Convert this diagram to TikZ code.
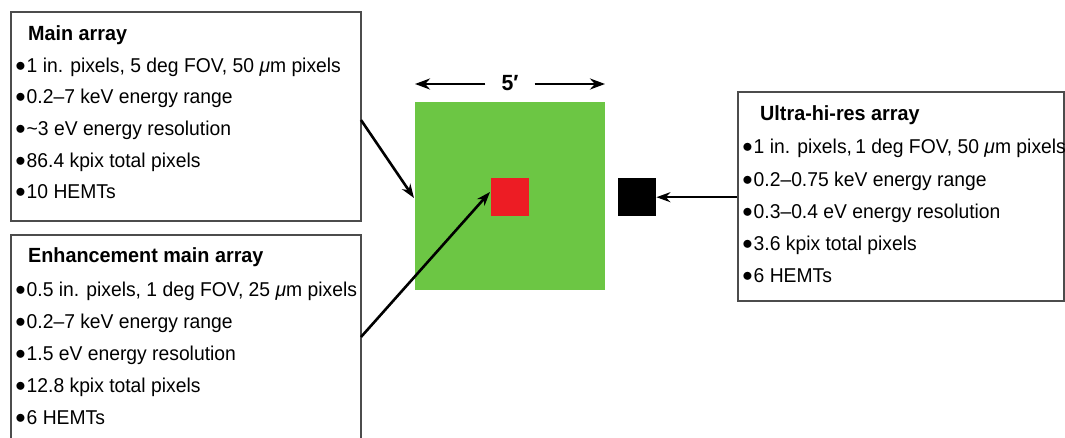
\documentclass[tikz,border=0pt]{standalone}
\usepackage{fontspec}
\setmainfont{Liberation Sans}[FakeStretch=0.965]
\usetikzlibrary{arrows.meta}
\definecolor{fieldgreen}{HTML}{6CC644}
\definecolor{chipred}{HTML}{ED1C24}
\newcommand\itemdot{\makebox[11pt][l]{\hspace{-0.4pt}\raisebox{1pt}{\fontsize{19.5}{19.5}\selectfont$\bullet$}}}
\begin{document}
\begin{tikzpicture}[x=1pt,y=-1pt,
  panel/.style={draw=black!70, line width=1.8pt, anchor=north west, inner sep=0pt, fill=white},
  headline/.style={anchor=base west, inner sep=0pt, font=\fontsize{20.5}{23}\selectfont\bfseries},
  entry/.style={anchor=base west, inner sep=0pt, font=\fontsize{20}{23}\selectfont},
  pointer/.style={line width=2.6pt, -{Stealth[length=14pt,width=10pt]}},
  span/.style={line width=2.8pt, -{Stealth[length=15pt,width=11pt]}},
]
\path[use as bounding box, fill=white] (0,0) rectangle (1065,438);
\clip (0,0) rectangle (1065,438);

% text panels
\node[panel, minimum width=350pt, minimum height=209pt] (mainbox) at (10,11) {};
\node[panel, minimum width=350pt, minimum height=230pt] (enhbox) at (10,234) {};
\node[panel, minimum width=326pt, minimum height=209pt] (ultrabox) at (737,91) {};

% main array
\node[headline] (m0) at (28,41) {Main array};
\node[entry] (m1) at (15.5,73) {\itemdot 1 in. pixels, 5 deg FOV, 50 \textit{μ}m pixels};
\node[entry] (m2) at (15.5,104) {\itemdot 0.2–7 keV energy range};
\node[entry] (m3) at (15.5,136) {\itemdot \textasciitilde3 eV energy resolution};
\node[entry] (m4) at (15.5,168) {\itemdot 86.4 kpix total pixels};
\node[entry] (m5) at (15.5,199) {\itemdot 10 HEMTs};

% enhancement main array
\node[headline] (e0) at (28,263) {Enhancement main array};
\node[entry] (e1) at (15.5,296) {\itemdot 0.5 in. pixels, 1 deg FOV, 25 \textit{μ}m pixels};
\node[entry] (e2) at (15.5,328) {\itemdot 0.2–7 keV energy range};
\node[entry] (e3) at (15.5,360) {\itemdot 1.5 eV energy resolution};
\node[entry] (e4) at (15.5,392) {\itemdot 12.8 kpix total pixels};
\node[entry] (e5) at (15.5,424) {\itemdot 6 HEMTs};

% ultra-hi-res array
\node[headline] (u0) at (760,121) {Ultra-hi-res array};
\node[entry] (u1) at (742.5,154) {\itemdot 1 in. pixels,\,1 deg FOV, 50 \textit{μ}m pixels};
\node[entry] (u2) at (742.5,187) {\itemdot 0.2–0.75 keV energy range};
\node[entry] (u3) at (742.5,219) {\itemdot 0.3–0.4 eV energy resolution};
\node[entry] (u4) at (742.5,251) {\itemdot 3.6 kpix total pixels};
\node[entry] (u5) at (742.5,283) {\itemdot 6 HEMTs};

% focal plane squares
\node[fill=fieldgreen, minimum width=190pt, minimum height=188pt, anchor=north west, inner sep=0pt] (field) at (415,102) {};
\node[fill=chipred, minimum width=38pt, minimum height=38pt, anchor=north west, inner sep=0pt] (redchip) at (491,178) {};
\node[fill=black, minimum width=38pt, minimum height=38pt, anchor=north west, inner sep=0pt] (blackchip) at (618,178) {};

% field width dimension
\node[font=\fontsize{22}{24}\selectfont\bfseries, inner sep=0pt] (width) at (510,83) {5′};
\coordinate (wl) at (415,84);
\coordinate (wr) at (605,84);
\draw[span] (width.west |- wl) ++(-16,0) -- (wl);
\draw[span] (width.east |- wr) ++(16,0) -- (wr);

% connectors
\coordinate (mstart) at (361,120);
\coordinate (mend) at (414,198);
\draw[pointer] (mstart) -- (mend);
\coordinate (estart) at (361,337);
\coordinate (eend) at (490,192);
\draw[pointer] (estart) -- (eend);
\draw[pointer] (ultrabox.west |- blackchip.east) -- (blackchip.east);
\end{tikzpicture}
\end{document}
